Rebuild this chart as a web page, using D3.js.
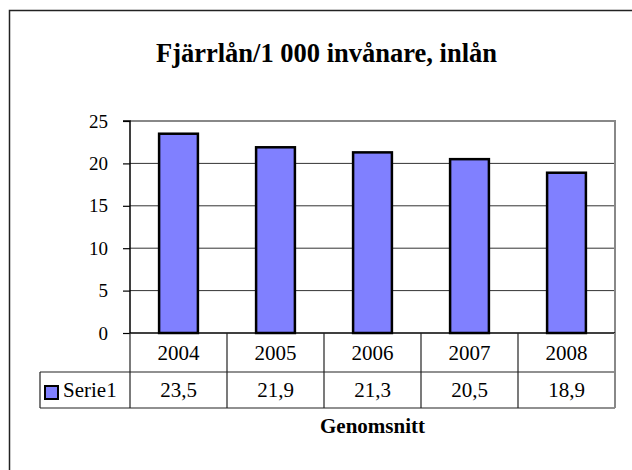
<!DOCTYPE html>
<html>
<head>
<meta charset="utf-8">
<script src="https://cdn.jsdelivr.net/npm/d3@7"></script>
<style>
  body { margin: 0; background: #fff; }
  svg { display: block; font-family: "Liberation Serif", "Times New Roman", serif; }
</style>
</head>
<body>
<div class="canva"></div>
<script>
// data
const years = ["2004", "2005", "2006", "2007", "2008"];
const values = [23.5, 21.9, 21.3, 20.5, 18.9];
const valueLabels = ["23,5", "21,9", "21,3", "20,5", "18,9"];
const yTicks = [0, 5, 10, 15, 20, 25];
const seriesName = "Serie1";

const width = 632;
const height = 470;

// plot area
const plotLeft = 130, plotRight = 615, plotTop = 121, plotBottom = 333;
const row1 = 372, row2 = 408; // table row lines
const legendLeft = 40;

const svg = d3.select(".canva").append("svg")
    .attr("width", width)
    .attr("height", height);

// outer frame (runs off the right / bottom edge)
svg.append("rect")
    .attr("x", 9.5).attr("y", 10.5)
    .attr("width", 640).attr("height", 480)
    .attr("fill", "white")
    .attr("stroke", "#222")
    .attr("stroke-width", 1.5);

// title
svg.append("text")
    .attr("x", 326.5).attr("y", 62)
    .attr("text-anchor", "middle")
    .style("font-weight", "bold")
    .style("font-size", "26.5px")
    .text("Fjärrlån/1 000 invånare, inlån");

const y = d3.scaleLinear().domain([0, 25]).range([plotBottom, plotTop]);
const xBar = d3.scaleBand().domain(years).range([plotLeft, plotRight]).paddingInner(0.6).paddingOuter(0.3);
const xCol = d3.scaleBand().domain(years).range([plotLeft, plotRight]);

// gridlines
svg.append("g")
    .selectAll("line")
    .data(yTicks.filter(d => d > 0 && d < 25))
    .join("line")
    .attr("x1", plotLeft).attr("x2", plotRight)
    .attr("y1", d => y(d)).attr("y2", d => y(d))
    .attr("stroke", "#333")
    .attr("stroke-width", 1);

// plot border top + right (gray)
svg.append("path")
    .attr("d", `M${plotLeft},${plotTop}H${plotRight}V${plotBottom}`)
    .attr("fill", "none")
    .attr("stroke", "#888")
    .attr("stroke-width", 2);

// bars
svg.append("g")
    .selectAll("rect")
    .data(values)
    .join("rect")
    .attr("x", (d, i) => xBar(years[i]))
    .attr("y", d => y(d))
    .attr("width", xBar.bandwidth())
    .attr("height", d => y(0) - y(d))
    .attr("fill", "#8080ff")
    .attr("stroke", "#000")
    .attr("stroke-width", 2.5);

// y axis
const yAxis = svg.append("g")
    .attr("transform", `translate(${plotLeft},0)`)
    .call(d3.axisLeft(y).tickValues(yTicks).tickSize(7).tickPadding(15).tickFormat(d3.format("d")))
    .attr("font-family", "Liberation Serif, serif")
    .attr("font-size", 19);
yAxis.select(".domain").attr("stroke", "#000").attr("stroke-width", 1.5)
    .attr("d", `M-7,${plotTop}H0V${plotBottom}`);
yAxis.selectAll(".tick line").attr("stroke", "#000").attr("stroke-width", 1.2);
yAxis.selectAll(".tick text").attr("fill", "#000");

// data table lines
const table = svg.append("g").attr("stroke", "#222").attr("stroke-width", 1.2);
table.append("line").attr("x1", plotLeft).attr("x2", plotRight).attr("y1", plotBottom).attr("y2", plotBottom)
    .attr("stroke", "#000").attr("stroke-width", 1.5);
table.append("line").attr("x1", legendLeft).attr("x2", plotRight).attr("y1", row1).attr("y2", row1);
table.append("line").attr("x1", legendLeft).attr("x2", plotRight).attr("y1", row2).attr("y2", row2);
table.append("line").attr("x1", legendLeft).attr("x2", legendLeft).attr("y1", row1).attr("y2", row2);
table.append("line").attr("x1", plotLeft).attr("x2", plotLeft).attr("y1", plotBottom).attr("y2", row2);
table.selectAll("line.col")
    .data(years)
    .join("line")
    .attr("class", "col")
    .attr("x1", d => xCol(d) + xCol.bandwidth())
    .attr("x2", d => xCol(d) + xCol.bandwidth())
    .attr("y1", plotBottom).attr("y2", row2)
    .attr("stroke", (d, i) => i === years.length - 1 ? "#888" : "#222")
    .attr("stroke-width", (d, i) => i === years.length - 1 ? 2 : 1.2);

// table text
svg.append("g")
    .selectAll("text")
    .data(years)
    .join("text")
    .attr("x", d => xCol(d) + xCol.bandwidth() / 2)
    .attr("y", 360)
    .attr("text-anchor", "middle")
    .style("font-size", "21px")
    .text(d => d);

svg.append("g")
    .selectAll("text")
    .data(valueLabels)
    .join("text")
    .attr("x", (d, i) => xCol(years[i]) + xCol.bandwidth() / 2)
    .attr("y", 397)
    .attr("text-anchor", "middle")
    .style("font-size", "21px")
    .text(d => d);

// legend key
svg.append("rect")
    .attr("x", 45).attr("y", 386)
    .attr("width", 13).attr("height", 13)
    .attr("fill", "#8080ff")
    .attr("stroke", "#000")
    .attr("stroke-width", 2);
svg.append("text")
    .attr("x", 63).attr("y", 397)
    .style("font-size", "21px")
    .text(seriesName);

// axis title
svg.append("text")
    .attr("x", (plotLeft + plotRight) / 2).attr("y", 433)
    .attr("text-anchor", "middle")
    .style("font-weight", "bold")
    .style("font-size", "21px")
    .text("Genomsnitt");
</script>
</body>
</html>
